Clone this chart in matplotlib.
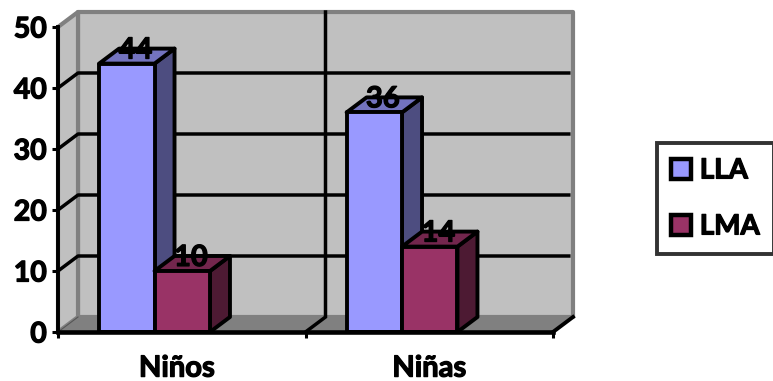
import matplotlib
matplotlib.use("Agg")
import matplotlib.pyplot as plt
import matplotlib.patheffects as pe
from matplotlib.patches import Patch, Polygon

plt.rcParams['font.family'] = ['Lato', 'DejaVu Sans']
plt.rcParams['font.weight'] = 'bold'

categories = ['Niños', 'Niñas']
series_names = ['LLA', 'LMA']
lla_values = [44, 36]
lma_values = [10, 14]
y_ticks = [0, 10, 20, 30, 40, 50]

# caja 3D: desplazamiento de fondo en unidades de datos
DX = 20 / 247.5
DY = 15 / 6.1
BAR_W = 0.224
GAP = 0.166
LW = 2.8

COLORS = {
    'LLA': ('#9999ff', '#7373bf', '#4d4d80'),
    'LMA': ('#993366', '#73264d', '#4d1a33'),
}
# trazo extra para engrosar las letras
BOLD = [pe.withStroke(linewidth=0.9, foreground='black')]

fig = plt.figure(figsize=(7.73, 3.81), dpi=100)
ax = fig.add_axes([58 / 773, 49 / 381, 495 / 773, 305 / 381])
ax.set_xlim(0, 2)
ax.set_ylim(0, 50)
ax.patch.set_visible(False)
for s in ax.spines.values():
    s.set_visible(False)


def poly(pts, face, edge, lw, z):
    p = Polygon(pts, closed=True, facecolor=face, edgecolor=edge, linewidth=lw,
                joinstyle='round', clip_on=False, zorder=z)
    ax.add_patch(p)


# paredes y piso
poly([(DX, DY), (2 + DX, DY), (2 + DX, 50 + DY), (DX, 50 + DY)], '#c0c0c0', '#808080', 3.0, 1)
poly([(0, 0), (DX, DY), (DX, 50 + DY), (0, 50)], '#c0c0c0', '#808080', 3.0, 1)
poly([(0, 0), (2, 0), (2 + DX, DY), (DX, DY)], '#808080', '#808080', 1, 2)

# rejilla sobre las paredes
for v in y_ticks[1:-1]:
    ax.plot([0, DX, 2 + DX - 0.01], [v, v + DY, v + DY], color='black', lw=LW - 0.3,
            clip_on=False, zorder=3, solid_capstyle='butt')
ax.plot([1, 1 + DX, 1 + DX], [0, DY, 50 + DY], color='black', lw=LW - 0.3,
        clip_on=False, zorder=3, solid_joinstyle='miter')
ax.plot([2, 2 + DX], [0, DY], color='black', lw=LW, clip_on=False, zorder=3)
ax.plot([0, DX], [0, DY], color='#555555', lw=0.8, clip_on=False, zorder=3)

# barras en perspectiva
for i in range(len(categories)):
    for j, (name, vals) in enumerate(zip(series_names, [lla_values, lma_values])):
        front, top, side = COLORS[name]
        x0 = i + GAP + j * BAR_W
        x1 = x0 + BAR_W
        v = vals[i]
        z = 4 + j
        poly([(x1, 0), (x1 + DX, DY), (x1 + DX, v + DY), (x1, v)], side, 'black', LW, z)
        poly([(x0, v), (x1, v), (x1 + DX, v + DY), (x0 + DX, v + DY)], top, 'black', LW, z)
        poly([(x0, 0), (x1, 0), (x1, v), (x0, v)], front, 'black', LW, z)
        ax.annotate(str(v), xy=(x0 + BAR_W / 2 + DX / 2, v + DY / 2), xytext=(-1, 4),
                    textcoords='offset points', ha='center', va='center',
                    fontsize=21, fontweight='bold', color='black', zorder=10,
                    annotation_clip=False, path_effects=BOLD)

# ejes
ax.plot([0, 2], [0, 0], color='black', lw=LW + 0.5, clip_on=False, zorder=8)
ax.plot([0, 0], [0, 50], color='black', lw=LW, clip_on=False, zorder=8)
ax.set_yticks(y_ticks)
ax.set_xticks([0, 1, 2])
ax.set_xticklabels([])
ax.set_xticks([0.48, 1.5], labels=categories, minor=True)
ax.tick_params(axis='y', length=4, width=2.2, labelsize=20.5, pad=4)
ax.tick_params(axis='x', which='major', length=4, width=2.2)
ax.tick_params(axis='x', which='minor', length=0, labelsize=21, pad=17)
for t in ax.get_yticklabels() + ax.get_xticklabels(minor=True):
    t.set_path_effects(BOLD)

handles = [Patch(facecolor=COLORS[n][0], edgecolor='black', linewidth=LW + 0.4) for n in series_names]
leg = fig.legend(handles, series_names, loc='upper left', bbox_to_anchor=(657 / 773, 1 - 143 / 381),
                 bbox_transform=fig.transFigure, fontsize=20, frameon=True, fancybox=False,
                 edgecolor='black', facecolor='white', handlelength=0.72, handleheight=0.72,
                 handletextpad=0.3, labelspacing=1.08, borderpad=0.52, borderaxespad=0)
leg.get_frame().set_linewidth(LW)
for t in leg.get_texts():
    t.set_path_effects(BOLD)

fig.savefig('out.png', dpi=100)
